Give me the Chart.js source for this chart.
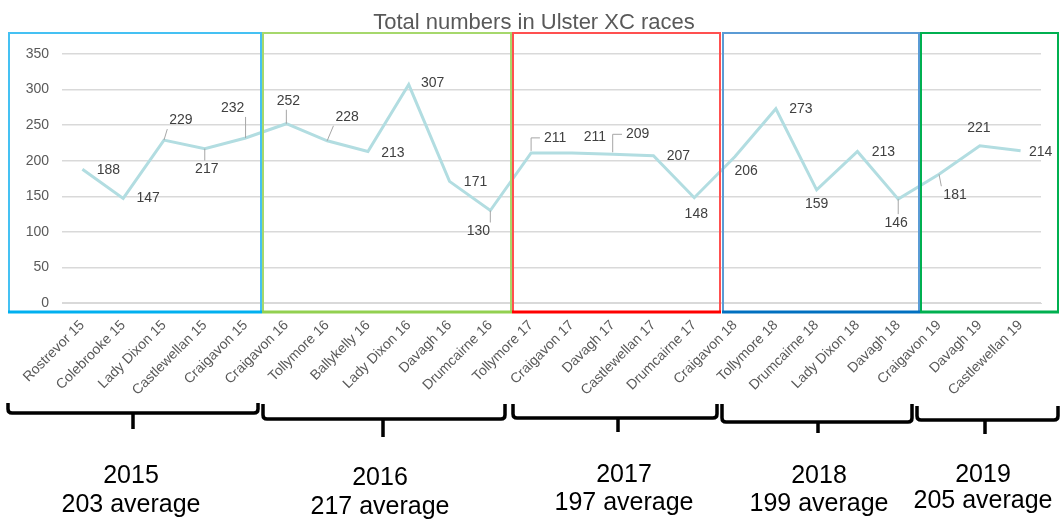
<!DOCTYPE html>
<html>
<head>
<meta charset="utf-8">
<script src="https://cdn.jsdelivr.net/npm/chart.js@4.4.0/dist/chart.umd.min.js"></script>
<style>
  html, body { margin: 0; padding: 0; background: #fff; }
  #wrap { width: 1060px; height: 519px; }
</style>
</head>
<body>
<div id="wrap"><canvas id="ulsterChart" width="1060" height="519"></canvas></div>
<script>
// Data
const races = ['Rostrevor 15', 'Colebrooke 15', 'Lady Dixon 15', 'Castlewellan 15', 'Craigavon 15',
    'Craigavon 16', 'Tollymore 16', 'Ballykelly 16', 'Lady Dixon 16', 'Davagh 16', 'Drumcairne 16',
    'Tollymore 17', 'Craigavon 17', 'Davagh 17', 'Castlewellan 17', 'Drumcairne 17',
    'Craigavon 18', 'Tollymore 18', 'Drumcairne 18', 'Lady Dixon 18', 'Davagh 18',
    'Craigavon 19', 'Davagh 19', 'Castlewellan 19'];
const totals = [188, 147, 229, 217, 232,
    252, 228, 213, 307, 171, 130,
    211, 211, 209, 207, 148,
    206, 273, 159, 213, 146,
    181, 221, 214];
const yTicks = [0, 50, 100, 150, 200, 250, 300, 350];
const years = ['2015', '2016', '2017', '2018', '2019'];
const yearAverages = [203, 217, 197, 199, 205];

// Label placement (offset from point to label centre, leader style)
const labelOffsets = [
    [26, 1], [25, 0], [17, -20], [2, 21], [-13, -30],
    [2, -23], [20, -24], [25, 2], [24, -1], [26, 1], [-12, 21],
    [24, -15], [23, -16], [25, -20], [25, 0], [2, 16],
    [11, 15], [25, 0], [0, 14], [26, 1], [-2, 24],
    [16, 21], [-1, -18], [20, 1]
];
const leaders = {2: 'line', 3: 'line', 4: 'line', 5: 'line', 6: 'line', 10: 'line',
    11: 'elbow', 13: 'elbow', 20: 'line', 21: 'line'};

// Year boxes and braces (layout)
const boxes = [
    { x1: 9, x2: 261, side: '#45C1F3', bottom: '#00B0F0' },
    { x1: 263, x2: 511, side: '#A6D86C', bottom: '#92D050' },
    { x1: 513, x2: 720, side: '#FF5050', bottom: '#FF0000' },
    { x1: 723, x2: 919, side: '#5B9BD5', bottom: '#0070C0' },
    { x1: 921, x2: 1058, side: '#00B050', bottom: '#00B050' }
];
const braces = [
    { x1: 8, x2: 258, y: 413, top: 403, mid: 133, tip: 429, tx: 131, b1: 483, b2: 512 },
    { x1: 263, x2: 505, y: 419, top: 404, mid: 383, tip: 437, tx: 380, b1: 485, b2: 514 },
    { x1: 513, x2: 717, y: 418, top: 404, mid: 618, tip: 432, tx: 624, b1: 482, b2: 510 },
    { x1: 722, x2: 912, y: 422, top: 404, mid: 818, tip: 433, tx: 819, b1: 483, b2: 511 },
    { x1: 917, x2: 1058, y: 420, top: 406, mid: 985, tip: 434, tx: 983, b1: 482, b2: 508 }
];

const FONT = "'Liberation Sans', Arial, sans-serif";

const decorPlugin = {
    id: 'decor',
    afterDraw: function(chart) {
        const ctx = chart.ctx;
        const meta = chart.getDatasetMeta(0);

        // data labels with leader lines
        ctx.save();
        ctx.font = '14px ' + FONT;
        ctx.textAlign = 'center';
        ctx.textBaseline = 'middle';
        meta.data.forEach(function(pt, i) {
            const off = labelOffsets[i];
            const lx = pt.x + off[0];
            const ly = pt.y + off[1];
            const text = String(totals[i]);
            const w = ctx.measureText(text).width;
            const kind = leaders[i];
            if (kind) {
                ctx.strokeStyle = '#A6A6A6';
                ctx.lineWidth = 1;
                ctx.beginPath();
                if (kind === 'elbow') {
                    ctx.moveTo(pt.x, pt.y - 2);
                    ctx.lineTo(pt.x, ly);
                    ctx.lineTo(lx - w / 2 - 4, ly);
                } else {
                    const rx = Math.max(lx - w / 2 - 2, Math.min(pt.x, lx + w / 2 + 2));
                    const ry = Math.max(ly - 9, Math.min(pt.y, ly + 9));
                    ctx.moveTo(pt.x, pt.y);
                    ctx.lineTo(rx, ry);
                }
                ctx.stroke();
            }
            ctx.fillStyle = '#404040';
            ctx.fillText(text, lx, ly);
        });
        ctx.restore();

        // coloured year boxes
        ctx.save();
        boxes.forEach(function(b) {
            ctx.strokeStyle = b.side;
            ctx.lineWidth = 2;
            ctx.strokeRect(b.x1, 33, b.x2 - b.x1, 279);
            ctx.strokeStyle = b.bottom;
            ctx.lineWidth = 3;
            ctx.beginPath();
            ctx.moveTo(b.x1 - 1, 312);
            ctx.lineTo(b.x2 + 1, 312);
            ctx.stroke();
        });
        ctx.restore();

        // braces and year text
        ctx.save();
        ctx.strokeStyle = '#000';
        ctx.lineWidth = 3.5;
        ctx.lineJoin = 'round';
        braces.forEach(function(b, i) {
            ctx.beginPath();
            ctx.moveTo(b.x1, b.top);
            ctx.lineTo(b.x1, b.y - 4);
            ctx.quadraticCurveTo(b.x1, b.y, b.x1 + 4, b.y);
            ctx.lineTo(b.x2 - 4, b.y);
            ctx.quadraticCurveTo(b.x2, b.y, b.x2, b.y - 4);
            ctx.lineTo(b.x2, b.top);
            ctx.moveTo(b.mid, b.y);
            ctx.lineTo(b.mid, b.tip);
            ctx.stroke();

            ctx.fillStyle = '#000';
            ctx.font = '25px ' + FONT;
            ctx.textAlign = 'center';
            ctx.textBaseline = 'alphabetic';
            ctx.fillText(years[i], b.tx, b.b1);
            ctx.fillText(yearAverages[i] + ' average', b.tx, b.b2);
        });
        ctx.restore();

        // title
        ctx.save();
        ctx.fillStyle = '#595959';
        ctx.font = '22px ' + FONT;
        ctx.textAlign = 'center';
        ctx.textBaseline = 'alphabetic';
        ctx.fillText('Total numbers in Ulster XC races', 534, 29);
        ctx.restore();
    }
};

const ctx = document.getElementById('ulsterChart').getContext('2d');
new Chart(ctx, {
    type: 'line',
    data: {
        labels: races,
        datasets: [{
            label: 'Total numbers',
            data: totals,
            borderColor: '#B2DDE1',
            borderWidth: 3,
            pointRadius: 0,
            tension: 0,
            fill: false
        }]
    },
    options: {
        responsive: false,
        animation: false,
        layout: {
            padding: { top: 54, right: 19, left: 0, bottom: 0 }
        },
        scales: {
            x: {
                offset: true,
                grid: { display: false },
                border: { display: true, color: '#D9D9D9', width: 1 },
                ticks: {
                    autoSkip: false,
                    minRotation: 45,
                    maxRotation: 45,
                    padding: 6,
                    color: '#595959',
                    font: { family: FONT, size: 14 }
                },
                afterFit: function(scale) { scale.height = 216; }
            },
            y: {
                min: 0,
                max: 350,
                afterBuildTicks: function(scale) {
                    scale.ticks = yTicks.map(function(v) { return { value: v }; });
                },
                grid: { color: '#D9D9D9', drawTicks: false, lineWidth: 1.5 },
                border: { display: false },
                ticks: {
                    padding: 13,
                    color: '#595959',
                    font: { family: FONT, size: 14 }
                },
                afterFit: function(scale) { scale.width = 62; }
            }
        },
        plugins: {
            legend: { display: false },
            title: { display: false },
            tooltip: { enabled: false }
        }
    },
    plugins: [decorPlugin]
});
</script>
</body>
</html>
